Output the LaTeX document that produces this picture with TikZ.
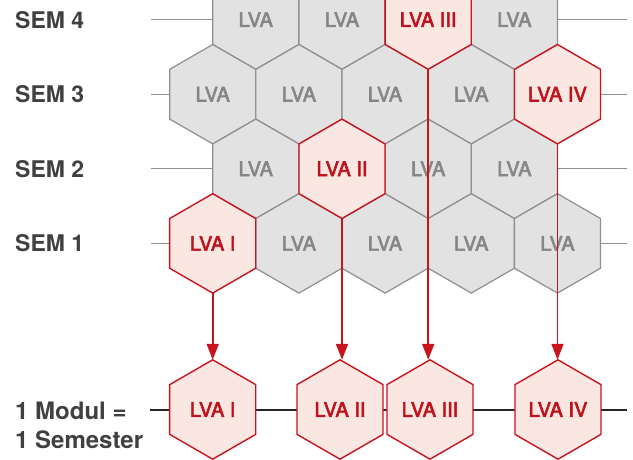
\documentclass[tikz,border=0pt]{standalone}
\usepackage{fontspec}
\setmainfont{TeX Gyre Heros}
\newfontfamily\hexfont[FakeBold=3]{TeX Gyre Heros}
\usetikzlibrary{shapes.geometric,arrows.meta}
\definecolor{hexgrayfill}{HTML}{E2E2E2}
\definecolor{hexgraydraw}{HTML}{8F8F8F}
\definecolor{hexgraytext}{HTML}{868686}
\definecolor{hexredfill}{HTML}{FAE7E2}
\definecolor{hexreddraw}{HTML}{C8141E}
\definecolor{hexredtext}{HTML}{C0121C}
\definecolor{labeltext}{HTML}{404040}
\tikzset{
  hexbase/.style={regular polygon, regular polygon sides=6, shape border rotate=30,
    minimum size=99.4pt, inner sep=0pt, outer sep=0pt,
    font=\hexfont\fontsize{20}{23}\selectfont},
  hexgray/.style={hexbase, fill=hexgrayfill, draw=hexgraydraw, line width=1.2pt, text=hexgraytext},
  hexred/.style={hexbase, fill=hexredfill, draw=hexreddraw, line width=1.4pt, text=hexredtext},
  semlabel/.style={anchor=west, inner sep=0pt, text=labeltext, font=\fontsize{23}{27}\selectfont\bfseries},
  rowline/.style={draw=hexgraydraw, line width=1.2pt},
  moduleline/.style={draw=black!85, line width=1.2pt},
  movearrow/.style={draw=hexreddraw, line width=1.8pt, -{Triangle[length=16pt,width=12pt]}}
}
\begin{document}
\begin{tikzpicture}[x=1pt,y=-1pt]
\useasboundingbox (0,0) rectangle (633,460);
\clip (0,0) rectangle (633,460);
% row guide end points
\foreach \n/\y in {4/19.6,3/94.2,2/168.8,1/243.4}{
  \coordinate (L\n) at (151,\y);
  \coordinate (R\n) at (627,\y);
  \draw[rowline] (L\n) -- (R\n);
}
\coordinate (LM) at (150,410);
\coordinate (RM) at (627,410);
\draw[moduleline] (LM) -- (RM);
% labels
\node[semlabel] (sem4) at (15,20.2) {SEM 4};
\node[semlabel] (sem3) at (15,94.2) {SEM 3};
\node[semlabel] (sem2) at (15,168.8) {SEM 2};
\node[semlabel] (sem1) at (15,243.4) {SEM 1};
\node[anchor=west, inner sep=0pt, text=labeltext, align=left,
  font=\fontsize{24}{29}\selectfont\bfseries] (modul) at (15,425.3) {1 Modul =\\1 Semester};
% gray grid hexagons
\node[hexgray] (g41) at (255.8,19.6) {LVA};
\node[hexgray] (g42) at (342.0,19.6) {LVA};
\node[hexgray] (g44) at (514.4,19.6) {LVA};
\node[hexgray] (g31) at (212.7,94.2) {LVA};
\node[hexgray] (g32) at (298.9,94.2) {LVA};
\node[hexgray] (g33) at (385.1,94.2) {LVA};
\node[hexgray] (g34) at (471.3,94.2) {LVA};
\node[hexgray] (g21) at (255.8,168.8) {LVA};
\node[hexgray] (g23) at (428.2,168.8) {LVA};
\node[hexgray] (g24) at (514.4,168.8) {LVA};
\node[hexgray] (g12) at (298.9,243.4) {LVA};
\node[hexgray] (g13) at (385.1,243.4) {LVA};
\node[hexgray] (g14) at (471.3,243.4) {LVA};
\node[hexgray] (g15) at (557.5,243.4) {LVA};
% red grid hexagons
\node[hexred] (s3) at (428.2,19.6) {LVA III};
\node[hexred] (s4) at (557.5,94.2) {LVA IV};
\node[hexred] (s2) at (342.0,168.8) {LVA II};
\node[hexred] (s1) at (212.7,243.4) {LVA I};
% module row
\node[hexred] (m1) at (212.7,409.5) {LVA I};
\node[hexred] (m2) at (340.0,409.5) {LVA II};
\node[hexred] (m3) at (430.0,409.5) {LVA III};
\node[hexred] (m4) at (558.0,409.5) {LVA IV};
% arrows
\draw[movearrow] (s1.south) -- (s1.south |- m1.north);
\draw[movearrow] (s2.south) -- (s2.south |- m2.north);
\draw[movearrow] (s3.south) -- (s3.south |- m3.north);
\draw[movearrow] (s4.south) -- (s4.south |- m4.north);
\end{tikzpicture}
\end{document}
